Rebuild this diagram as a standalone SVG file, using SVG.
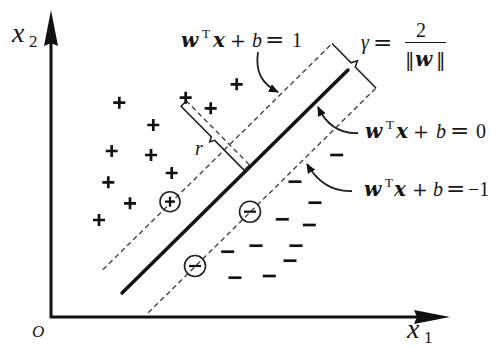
<svg xmlns="http://www.w3.org/2000/svg" width="491" height="347" viewBox="0 0 491 347">
<style>
text{font-family:'Liberation Serif','Times New Roman',serif;font-size:20px;fill:#151515}
.bi{font-family:'DejaVu Serif',serif;font-weight:bold;font-style:italic;font-size:20px}
.i{font-style:italic}
.sup{font-size:13px}
.op{font-family:'DejaVu Serif',serif;font-size:19px}
.eq{font-family:'DejaVu Serif',serif;font-size:23px}
.ax{stroke:#111;stroke-width:3;fill:none}
.hp{stroke:#111;stroke-width:3.5;fill:none;stroke-linecap:round}
.dash{stroke:#444;stroke-width:1.4;fill:none;stroke-dasharray:5 3.5}
.br{stroke:#222;stroke-width:1.6;fill:none;stroke-linejoin:miter}
.cv{stroke:#222;stroke-width:1.8;fill:none}
.pt{stroke:#111;stroke-width:2.7;fill:none}
.ring{stroke:#222;stroke-width:1.6;fill:none}
</style>
<defs>
<marker id="ah" viewBox="0 0 10 10" refX="9" refY="5" markerWidth="10" markerHeight="10" markerUnits="userSpaceOnUse" orient="auto"><path d="M0,0.8 L10,5 L0,9.2 z" fill="#111"/></marker>
<g id="plus"><path class="pt" d="M-6,0 H6 M0,-6 V6"/></g>
<g id="minus"><path class="pt" d="M-6.5,0 H6.5"/></g>
<g id="cplus"><circle class="ring" r="10"/><path class="pt" d="M-5,0 H5 M0,-5 V5" style="stroke-width:2.2"/></g>
<g id="cminus"><circle class="ring" r="10.5"/><path class="pt" d="M-6,0 H6" style="stroke-width:2.2"/></g>
</defs>

<g id="axes">
<path class="ax" d="M51,318 V40"/>
<polygon points="51,10 44,46 51,43 58,46" fill="#111"/>
<path class="ax" d="M50,317 H420"/>
<polygon points="450,317 414,310 417,317 414,324" fill="#111"/>
<text class="i" x="12" y="42" style="font-size:28px">x<tspan x="29" y="47" style="font-style:normal;font-size:17px">2</tspan></text>
<text class="i" x="407" y="338" style="font-size:28px">x<tspan x="424" y="343" style="font-style:normal;font-size:17px">1</tspan></text>
<text class="i" x="32" y="337" style="font-size:17px">O</text>
</g>

<g id="hyperplanes" transform="translate(235,181.5) rotate(-44.62)">
<path id="separator" class="hp" d="M-158.7,0 H158.7"/>
<path id="margin-upper" class="dash" d="M-156,-30 H166"/>
<path id="margin-lower" class="dash" d="M-154,32.5 H166"/>
<path id="gamma-bracket" class="br" d="M166,-30 V-3 L172,0 L166,3 V32.5"/>
<path id="r-dash" class="dash" d="M22,-92 V0"/>
<path id="r-bracket" class="br" d="M20.5,-91.5 H14.5 V-48.5 L10,-46 L14.5,-43.5 V-1.5 H21.5"/>
</g>

<g id="connectors">
<path class="cv" d="M258,52 C255,72 262,84 278,92" marker-end="url(#ah)"/>
<path class="cv" d="M358,133 C338,134 326,124 318,107" marker-end="url(#ah)"/>
<path class="cv" d="M352,191 C332,192 317,181 307,164" marker-end="url(#ah)"/>
</g>

<g id="positive-points">
<use href="#plus" x="236.7" y="84.3"/>
<use href="#plus" x="185.7" y="97.7"/>
<use href="#plus" x="210.7" y="108.3"/>
<use href="#plus" x="119.3" y="102.7"/>
<use href="#plus" x="153.3" y="125"/>
<use href="#plus" x="111.7" y="151"/>
<use href="#plus" x="151" y="155"/>
<use href="#plus" x="108.3" y="182.3"/>
<use href="#plus" x="171.7" y="173"/>
<use href="#plus" x="130" y="203.3"/>
<use href="#plus" x="99" y="220"/>
<use href="#cplus" x="170" y="201.7"/>
</g>

<g id="negative-points">
<use href="#minus" x="336.7" y="155"/>
<use href="#minus" x="295" y="181.7"/>
<use href="#minus" x="315" y="202.7"/>
<use href="#minus" x="282.3" y="219.3"/>
<use href="#minus" x="309.3" y="225"/>
<use href="#minus" x="256" y="245.7"/>
<use href="#minus" x="227.7" y="251.7"/>
<use href="#minus" x="296" y="245.7"/>
<use href="#minus" x="290" y="260.7"/>
<use href="#minus" x="235" y="277.7"/>
<use href="#minus" x="269.3" y="276"/>
<use href="#cminus" x="250" y="211.7"/>
<use href="#cminus" x="195" y="266"/>
</g>

<g id="label-plus1">
<text y="47"><tspan class="bi" x="181">w</tspan><tspan class="sup" x="202" y="38">T</tspan><tspan class="bi" x="213" y="47">x</tspan><tspan class="op" x="230">+</tspan><tspan class="i" x="252">b</tspan><tspan class="eq" x="265">=</tspan><tspan x="292">1</tspan></text>
</g>

<g id="label-gamma">
<text y="49"><tspan class="i" x="361">γ</tspan><tspan class="eq" x="373" y="50">=</tspan></text>
<text x="416" y="37">2</text>
<path d="M405,42.5 H446" stroke="#151515" stroke-width="1.2"/>
<text y="66"><tspan class="op" x="405">‖</tspan><tspan class="bi" x="415">w</tspan><tspan class="op" x="436">‖</tspan></text>
</g>

<g id="label-r">
<text class="i" x="195" y="155">r</text>
</g>

<g id="label-zero">
<text y="138"><tspan class="bi" x="365">w</tspan><tspan class="sup" x="386" y="129">T</tspan><tspan class="bi" x="396" y="138">x</tspan><tspan class="op" x="413">+</tspan><tspan class="i" x="436">b</tspan><tspan class="eq" x="450">=</tspan><tspan x="476">0</tspan></text>
</g>

<g id="label-minus1">
<text y="196"><tspan class="bi" x="364">w</tspan><tspan class="sup" x="385" y="187">T</tspan><tspan class="bi" x="394" y="196">x</tspan><tspan class="op" x="412">+</tspan><tspan class="i" x="433">b</tspan><tspan class="eq" x="446">=</tspan><tspan x="468">−1</tspan></text>
</g>
</svg>
